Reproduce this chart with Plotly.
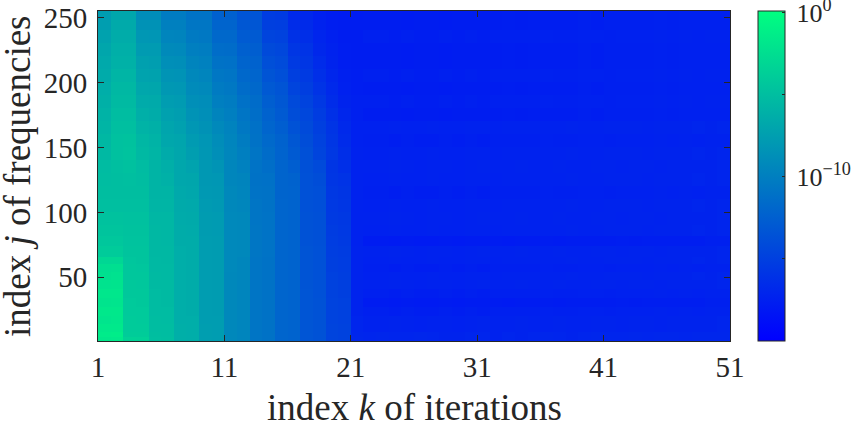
import plotly.graph_objects as go

k_edges = list(range(1, 52))
j_edges = [1, 4, 8, 14, 20, 27, 34, 41, 48, 54, 60, 66, 74, 82, 90, 100, 110, 120, 130, 140,
           150, 160, 170, 180, 190, 200, 210, 220, 230, 240, 248, 255]

head_rows = [
    [-1.7,-1.6,-3.4,-3.5,-4.9,-5.0,-6.2,-6.3,-7.5,-7.6,-9.3,-9.5,-10.8,-11.0,-12.0,-12.2,-13.3,-13.5,-14.6,-14.8,-16.9],
    [-1.4,-1.3,-3.9,-3.9,-5.0,-5.1,-6.2,-6.3,-7.5,-7.6,-9.3,-9.5,-10.8,-11.0,-12.0,-12.2,-13.3,-13.5,-14.6,-14.8,-17.0],
    [-1.6,-1.6,-4.0,-4.0,-5.1,-5.1,-6.2,-6.3,-7.5,-7.6,-9.3,-9.5,-10.8,-11.0,-12.0,-12.2,-13.3,-13.5,-14.6,-14.8,-17.1],
    [-1.9,-1.8,-4.0,-4.1,-5.1,-5.2,-6.3,-6.3,-7.6,-7.6,-9.3,-9.5,-10.8,-11.0,-12.0,-12.2,-13.3,-13.5,-14.7,-14.9,-17.1],
    [-1.7,-1.7,-4.1,-4.1,-5.2,-5.2,-6.3,-6.4,-7.6,-7.7,-9.3,-9.5,-10.8,-11.0,-12.0,-12.2,-13.3,-13.5,-14.7,-14.9,-17.2],
    [-2.0,-1.9,-4.1,-4.2,-5.2,-5.3,-6.3,-6.4,-7.6,-7.7,-9.3,-9.5,-10.8,-11.0,-12.0,-12.2,-13.3,-13.5,-14.7,-14.9,-17.2],
    [-1.8,-1.8,-4.2,-4.2,-5.2,-5.3,-6.3,-6.4,-7.6,-7.7,-9.3,-9.5,-10.8,-11.0,-12.0,-12.2,-13.3,-13.6,-14.8,-15.0,-17.2],
    [-2.1,-2.0,-4.2,-4.3,-5.3,-5.3,-6.3,-6.4,-7.6,-7.7,-9.3,-9.5,-10.8,-11.0,-12.0,-12.2,-13.4,-13.6,-14.8,-15.0,-17.2],
    [-2.3,-2.2,-4.3,-4.3,-5.3,-5.4,-6.3,-6.4,-7.6,-7.7,-9.3,-9.4,-10.8,-11.0,-12.0,-12.2,-13.4,-13.6,-14.9,-15.1,-17.2],
    [-2.5,-2.4,-4.3,-4.4,-5.4,-5.4,-6.3,-6.4,-7.6,-7.7,-9.2,-9.4,-10.8,-11.0,-12.0,-12.2,-13.4,-13.6,-15.0,-15.2,-17.2],
    [-3.0,-3.0,-4.4,-4.5,-5.4,-5.5,-6.3,-6.4,-7.6,-7.7,-9.2,-9.4,-10.8,-11.0,-12.0,-12.2,-13.4,-13.6,-15.0,-15.2,-17.2],
    [-4.0,-4.0,-4.5,-4.5,-5.5,-5.5,-6.3,-6.4,-7.6,-7.7,-9.2,-9.3,-10.7,-10.9,-12.0,-12.2,-13.4,-13.6,-15.1,-15.3,-17.2],
    [-4.3,-4.3,-4.6,-4.6,-5.5,-5.6,-6.4,-6.4,-7.6,-7.7,-9.2,-9.3,-10.7,-10.9,-12.0,-12.2,-13.5,-13.7,-15.2,-15.4,-17.3],
    [-4.5,-4.5,-4.7,-4.7,-5.5,-5.6,-6.4,-6.5,-7.7,-7.8,-9.2,-9.3,-10.7,-10.9,-12.0,-12.2,-13.5,-13.7,-15.3,-15.5,-17.3],
    [-4.7,-4.7,-4.8,-4.8,-5.6,-5.6,-6.5,-6.6,-7.7,-7.8,-9.2,-9.3,-10.8,-10.9,-12.0,-12.2,-13.5,-13.7,-15.4,-15.6,-17.3],
    [-4.9,-4.9,-4.9,-4.9,-5.7,-5.7,-6.6,-6.7,-7.8,-7.9,-9.3,-9.4,-10.8,-11.0,-12.0,-12.2,-13.6,-13.8,-15.5,-15.7,-17.3],
    [-5.0,-5.0,-5.0,-5.0,-5.8,-5.8,-6.7,-6.8,-7.9,-8.0,-9.3,-9.5,-10.9,-11.0,-12.1,-12.2,-13.6,-13.8,-15.6,-15.8,-17.3],
    [-5.1,-5.0,-4.9,-5.1,-5.8,-6.0,-6.8,-6.9,-8.0,-8.1,-9.4,-9.6,-11.0,-11.1,-12.1,-12.3,-13.6,-13.9,-15.7,-16.0,-17.3],
    [-5.2,-4.9,-4.8,-5.2,-5.8,-6.2,-6.8,-7.1,-8.0,-8.3,-9.4,-9.8,-10.9,-11.3,-12.1,-12.6,-13.7,-14.2,-15.8,-16.3,-17.3],
    [-5.4,-4.8,-4.6,-5.4,-5.7,-6.5,-6.9,-7.5,-8.1,-8.7,-9.4,-10.0,-10.8,-11.5,-12.2,-12.9,-13.7,-14.6,-15.6,-16.4,-17.3],
    [-5.5,-4.8,-4.7,-5.6,-5.9,-6.8,-7.0,-7.8,-8.2,-8.9,-9.5,-10.2,-11.0,-11.7,-12.3,-13.1,-13.9,-14.8,-15.7,-16.6,-17.4],
    [-5.7,-4.9,-4.9,-5.9,-6.1,-7.0,-7.3,-8.1,-8.5,-9.2,-9.7,-10.5,-11.1,-12.0,-12.6,-13.5,-14.2,-15.0,-15.9,-16.8,-17.4],
    [-5.9,-5.1,-5.1,-6.2,-6.4,-7.3,-7.5,-8.4,-8.7,-9.6,-10.0,-10.8,-11.3,-12.3,-12.9,-13.9,-14.4,-15.3,-16.2,-17.0,-17.5],
    [-6.1,-5.3,-5.3,-6.5,-6.6,-7.6,-7.8,-8.7,-8.9,-10.0,-10.2,-11.1,-11.5,-12.6,-13.1,-14.2,-14.7,-15.6,-16.5,-17.2,-17.5],
    [-6.3,-5.5,-5.5,-6.8,-6.9,-8.0,-8.1,-9.0,-9.2,-10.3,-10.5,-11.5,-11.8,-13.0,-13.4,-14.6,-15.1,-16.0,-16.8,-17.4,-17.6],
    [-6.5,-5.7,-5.7,-7.1,-7.2,-8.3,-8.4,-9.3,-9.5,-10.6,-10.8,-11.8,-12.0,-13.4,-13.8,-15.0,-15.4,-16.3,-17.0,-17.5,-17.6],
    [-6.7,-6.0,-6.0,-7.4,-7.5,-8.7,-8.8,-9.6,-9.8,-11.0,-11.1,-12.1,-12.3,-13.8,-14.1,-15.4,-15.7,-16.6,-17.2,-17.6,-17.7],
    [-6.9,-6.2,-6.2,-7.8,-7.8,-9.1,-9.2,-10.0,-10.1,-11.4,-11.5,-12.4,-12.6,-14.2,-14.4,-15.7,-16.0,-16.9,-17.3,-17.6,-17.7],
    [-7.2,-6.4,-6.4,-8.1,-8.2,-9.5,-9.6,-10.4,-10.5,-11.8,-11.8,-12.8,-12.9,-14.6,-14.8,-16.1,-16.4,-17.1,-17.5,-17.7,-17.7],
    [-7.5,-6.6,-6.6,-8.5,-8.5,-9.9,-9.9,-10.7,-10.7,-12.1,-12.1,-13.1,-13.2,-15.0,-15.1,-16.5,-16.7,-17.3,-17.6,-17.7,-17.7],
    [-7.7,-6.9,-6.9,-8.9,-8.9,-10.3,-10.3,-11.0,-11.0,-12.4,-12.4,-13.4,-13.4,-15.3,-15.4,-16.8,-16.9,-17.5,-17.7,-17.8,-17.8],
]

tail_a = [-17.1,-17.0,-17.1,-17.1,-17.0,-17.1,-17.2,-17.2,-17.1,-17.1,-17.3,-17.1,-17.2,-17.1,-17.0,-17.1,-17.2,-17.1,-17.0,-17.1,-17.1,-17.0,-17.1,-17.0,-17.0,-17.1,-17.0,-17.0,-17.0]
tail_b = [-17.3,-17.3,-17.2,-17.3,-17.4,-17.3,-17.3,-17.4,-17.3,-17.2,-17.3,-17.3,-17.2,-17.3,-17.3,-17.2,-17.3,-17.3,-17.2,-17.2,-17.3,-17.2,-17.2,-17.3,-17.2,-17.2,-17.2,-17.2,-17.1]
tail_c = [-17.5,-17.5,-17.6,-17.5,-17.6,-17.6,-17.5,-17.6,-17.5,-17.6,-17.5,-17.5,-17.5,-17.5,-17.4,-17.5,-17.5,-17.4,-17.4,-17.5,-17.4,-17.4,-17.4,-17.3,-17.4,-17.3,-17.4,-17.3,-17.3]
tail_d = [-17.8,-17.8,-17.9,-17.8,-17.9,-17.9,-17.8,-17.9,-17.8,-17.8,-17.8,-17.9,-17.8,-17.8,-17.7,-17.8,-17.7,-17.7,-17.7,-17.7,-17.6,-17.7,-17.6,-17.6,-17.6,-17.6,-17.6,-17.5,-17.5]
tail_e = [-17.4,-17.4,-17.3,-17.4,-17.4,-17.3,-17.4,-17.4,-17.3,-17.3,-17.4,-17.3,-17.3,-17.3,-17.3,-17.3,-17.2,-17.3,-17.3,-17.2,-17.2,-17.2,-17.3,-17.2,-17.2,-17.2,-17.1,-17.2,-17.1]
tail_f = [-17.7,-17.7,-17.7,-17.8,-17.7,-17.7,-17.8,-17.7,-17.7,-17.7,-17.7,-17.6,-17.7,-17.6,-17.6,-17.6,-17.6,-17.5,-17.6,-17.5,-17.5,-17.5,-17.5,-17.4,-17.5,-17.4,-17.4,-17.4,-17.4]
tail_rows = [tail_a, tail_a, tail_b, tail_b, tail_c, tail_d, tail_c, tail_b, tail_e, tail_c, tail_e,
             tail_b, tail_d, tail_e, tail_b, tail_e, tail_c, tail_e, tail_b, tail_e, tail_c, tail_e,
             tail_f, tail_c, tail_f, tail_c, tail_f, tail_f, tail_c, tail_f, tail_f]
log10_magnitude = [head + tail for head, tail in zip(head_rows, tail_rows)]

x_ticks = [1, 11, 21, 31, 41, 51]
y_ticks = [50, 100, 150, 200, 250]
cb_ticks = [0, -5, -10, -15]
cb_labels = ["\u200910<sup>0</sup>", "", "\u200910<sup>−10</sup>", ""]
x_title = "index <i>k</i> of iterations"
y_title = "index <i>j</i> of frequencies"

INK = "#262626"
FONT = "Liberation Serif"

fig = go.Figure(go.Heatmap(
    x=k_edges, y=j_edges, z=log10_magnitude,
    zmin=-20, zmax=0.12,
    colorscale=[[0, "rgb(0,0,255)"], [1, "rgb(0,255,128)"]],
    hoverinfo="skip",
    colorbar=dict(
        x=(759 - 98) / 632.5, xanchor="left", xpad=0,
        y=0, yanchor="bottom", ypad=0, len=1, lenmode="fraction",
        thickness=27, thicknessmode="pixels",
        tickmode="array", tickvals=cb_ticks, ticktext=cb_labels,
        ticks="inside", ticklen=3, tickcolor=INK, tickwidth=1,
        ticklabeloverflow="allow",
        outlinecolor=INK, outlinewidth=1,
        tickfont=dict(family=FONT, size=26, color=INK),
    ),
))

axis_style = dict(
    ticks="inside", ticklen=6, tickwidth=1, tickcolor=INK,
    showline=True, linecolor=INK, linewidth=1, mirror="ticks",
    showgrid=False, zeroline=False, ticklabeloverflow="allow",
    tickfont=dict(family=FONT, size=29, color=INK),
)
fig.update_xaxes(
    range=[1, 51], tickmode="array", tickvals=x_ticks,
    ticktext=[str(v) for v in x_ticks], **axis_style,
)
fig.update_yaxes(
    range=[1, 255], tickmode="array", tickvals=y_ticks,
    ticktext=[str(v) for v in y_ticks], ticklabelstandoff=4, **axis_style,
)
title_font = dict(family=FONT, size=37, color=INK)
fig.add_annotation(text=x_title, xref="paper", yref="paper", x=0.5,
                   y=-(407 - 341) / 330, xanchor="center", yanchor="middle",
                   showarrow=False, font=title_font)
fig.add_annotation(text=y_title, xref="paper", yref="paper",
                   x=(17 - 98) / 632.5, y=0.5, xanchor="center", yanchor="middle",
                   textangle=-90, showarrow=False, font=title_font)
fig.update_layout(
    width=859, height=421, autosize=False,
    margin=dict(l=98, r=128.5, t=11, b=80, pad=0, autoexpand=False),
    paper_bgcolor="white", plot_bgcolor="white",
)
fig.write_html("out.html", config={"displayModeBar": False},
               post_script="document.body.style.margin='0';")
